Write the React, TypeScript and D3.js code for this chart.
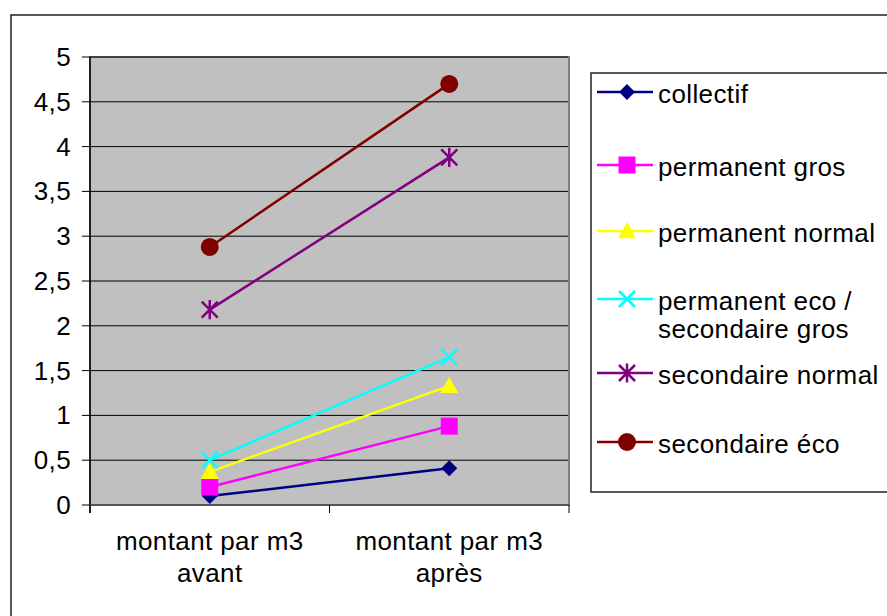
import React from "react";
import * as d3 from "d3";

const categories = ["montant par m3\navant", "montant par m3\naprès"];
const seriesNames = [
  "collectif",
  "permanent gros",
  "permanent normal",
  "permanent eco /\nsecondaire gros",
  "secondaire normal",
  "secondaire éco",
];
const collectif = [0.1, 0.41];
const permanentGros = [0.2, 0.88];
const permanentNormal = [0.37, 1.33];
const permanentEco = [0.5, 1.65];
const secondaireNormal = [2.18, 3.88];
const secondaireEco = [2.88, 4.7];
const yTicks = [0, 0.5, 1, 1.5, 2, 2.5, 3, 3.5, 4, 4.5, 5];
const yTickLabels = ["0", "0,5", "1", "1,5", "2", "2,5", "3", "3,5", "4", "4,5", "5"];

const seriesValues = [collectif, permanentGros, permanentNormal, permanentEco, secondaireNormal, secondaireEco];
const colors = ["#000080", "#FF00FF", "#FFFF00", "#00FFFF", "#800080", "#800000"];
const shapes = ["diamond", "square", "triangle", "x", "star", "circle"];

const FONT = "'Liberation Sans', Arial, sans-serif";

function Marker({ shape, color, x, y, s = 1 }: { shape: string; color: string; x: number; y: number; s?: number }) {
  const t = `translate(${x},${y})`;
  if (shape === "diamond") {
    const r = 8 * s;
    return <path transform={t} d={`M0,${-r}L${r},0L0,${r}L${-r},0Z`} fill={color} />;
  }
  if (shape === "square") {
    const r = 8.5 * s;
    return <rect transform={t} x={-r} y={-r} width={2 * r} height={2 * r} fill={color} />;
  }
  if (shape === "triangle") {
    const r = 9 * s;
    return <path transform={t} d={`M0,${-r}L${r},${r * 0.8}L${-r},${r * 0.8}Z`} fill={color} />;
  }
  if (shape === "x") {
    const r = 8 * s;
    return (
      <path transform={t} d={`M${-r},${-r}L${r},${r}M${-r},${r}L${r},${-r}`} stroke={color} strokeWidth={2.5} fill="none" />
    );
  }
  if (shape === "star") {
    const r = 8 * s;
    return (
      <path
        transform={t}
        d={`M${-r},${-r}L${r},${r}M${-r},${r}L${r},${-r}M0,${-r * 1.2}L0,${r * 1.2}`}
        stroke={color}
        strokeWidth={2.5}
        fill="none"
      />
    );
  }
  return <circle transform={t} r={9 * s} fill={color} />;
}

export default function App() {
  const W = 887;
  const H = 616;
  const plotL = 90;
  const plotR = 569;
  const plotT = 57;
  const plotB = 505;

  const x = d3.scaleBand<string>().domain(categories).range([plotL, plotR]);
  const y = d3.scaleLinear().domain([0, 5]).range([plotB, plotT]);
  const line = d3
    .line<number>()
    .x((_, i) => (x(categories[i]) as number) + x.bandwidth() / 2)
    .y((d) => y(d));

  const legendY = [92, 165, 231, 299, 373, 442];
  const boundaries = [plotL, plotL + x.bandwidth(), plotR];

  return (
    <svg
      width={W}
      height={H}
      style={{ position: "absolute", left: 0, top: 0, background: "#fff" }}
      fontFamily={FONT}
    >
      <rect x={11} y={15} width={W + 10} height={H + 10} fill="#fff" stroke="#222" strokeWidth={1.5} />
      <rect x={plotL} y={plotT} width={plotR - plotL} height={plotB - plotT} fill="#C0C0C0" stroke="#808080" strokeWidth={2} />
      {yTicks.slice(1).map((t) => (
        <line key={t} x1={plotL} x2={plotR - 1} y1={y(t)} y2={y(t)} stroke="#000" strokeWidth={1} />
      ))}
      <line x1={plotL} x2={plotL} y1={plotT} y2={plotB + 8} stroke="#000" strokeWidth={1.5} />
      <line x1={plotL} x2={plotR} y1={plotB} y2={plotB} stroke="#555" strokeWidth={2} />
      {yTicks.map((t, i) => (
        <g key={t}>
          <line x1={plotL - 8} x2={plotL} y1={y(t)} y2={y(t)} stroke="#000" strokeWidth={1} />
          <text
            x={plotL - 19}
            y={y(t)}
            textAnchor="end"
            dominantBaseline="central"
            fontSize={26}
            letterSpacing={0.4}
            fill="#000"
          >
            {yTickLabels[i]}
          </text>
        </g>
      ))}
      {boundaries.map((bx, i) => (
        <line key={i} x1={bx} x2={bx} y1={plotB} y2={plotB + 8} stroke="#000" strokeWidth={1} />
      ))}
      {categories.map((c) => {
        const cx = (x(c) as number) + x.bandwidth() / 2;
        const lines = c.split("\n");
        return (
          <text key={c} x={cx} y={550} textAnchor="middle" fontSize={26} letterSpacing={0.4} fill="#000">
            {lines.map((l, i) => (
              <tspan key={i} x={cx} dy={i === 0 ? 0 : 32}>
                {l}
              </tspan>
            ))}
          </text>
        );
      })}
      {seriesValues.map((vals, si) => (
        <g key={si}>
          <path d={line(vals) || ""} fill="none" stroke={colors[si]} strokeWidth={2.5} />
          {vals.map((v, i) => (
            <Marker
              key={i}
              shape={shapes[si]}
              color={colors[si]}
              x={(x(categories[i]) as number) + x.bandwidth() / 2}
              y={y(v)}
            />
          ))}
        </g>
      ))}
      <rect x={591} y={73} width={W} height={419} fill="#fff" stroke="#222" strokeWidth={1.5} />
      {seriesNames.map((name, si) => {
        const ly = legendY[si];
        const parts = name.split("\n");
        return (
          <g key={si}>
            <line x1={597} x2={653} y1={ly} y2={ly} stroke={colors[si]} strokeWidth={2.5} />
            <Marker shape={shapes[si]} color={colors[si]} x={627} y={ly} />
            <text x={658} y={ly + 11} fontSize={26} letterSpacing={0.4} fill="#000">
              {parts.map((p, i) => (
                <tspan key={i} x={658} dy={i === 0 ? 0 : 28}>
                  {p}
                </tspan>
              ))}
            </text>
          </g>
        );
      })}
    </svg>
  );
}
